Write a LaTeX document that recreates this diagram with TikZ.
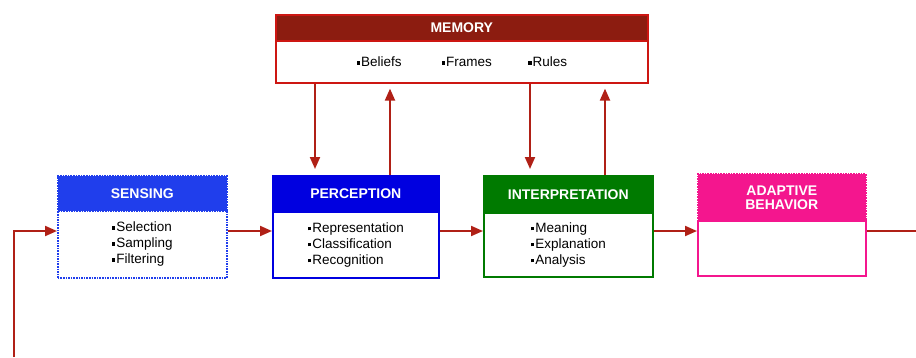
\documentclass[tikz,border=0pt]{standalone}
\usepackage{fontspec}
\setmainfont{Liberation Sans}
\usetikzlibrary{arrows.meta}

\definecolor{flowred}{RGB}{176,32,22}
\definecolor{memhead}{RGB}{140,28,16}
\definecolor{memline}{RGB}{205,22,18}
\definecolor{sensblue}{RGB}{32,62,236}
\definecolor{percblue}{RGB}{0,0,224}
\definecolor{interpgreen}{RGB}{0,122,0}
\definecolor{adapink}{RGB}{244,22,142}

\newcommand{\sqbul}{\rule[2pt]{3.6pt}{3.6pt}\hspace{1pt}}

\tikzset{
  hdr/.style={anchor=north west, inner sep=0pt, text=white, line width=1.6pt,
    font=\bfseries\fontsize{14}{16}\selectfont, align=center},
  bodybox/.style={anchor=north west, inner sep=0pt, fill=white, line width=1.6pt,
    font=\fontsize{13.5}{16}\selectfont, align=left},
  flow/.style={draw=flowred, line width=2pt, -{Triangle[length=12pt,width=10pt]}},
  plainflow/.style={draw=flowred, line width=2pt}
}

\begin{document}
\begin{tikzpicture}[x=1pt,y=-1pt]
\useasboundingbox (0,0) rectangle (916,357);

% memory
\node[hdr, fill=memhead, draw=memline, minimum width=372pt, minimum height=26pt]
  (memH) at (275,14) {MEMORY};
\node[bodybox, draw=memline, minimum width=372pt, minimum height=42pt]
  (memB) at (275,40) {\sqbul Beliefs\hspace{40pt}\sqbul Frames\hspace{36pt}\sqbul Rules};

% sensing
\node[hdr, fill=sensblue, draw=sensblue, densely dotted, minimum width=169pt, minimum height=35pt]
  (sensH) at (57,175) {SENSING};
\node[bodybox, draw=sensblue, densely dotted, minimum width=169pt, minimum height=67pt]
  (sensB) at (57,210) {\sqbul Selection\\\sqbul Sampling\\\sqbul Filtering};

% perception
\node[hdr, fill=percblue, draw=percblue, minimum width=166pt, minimum height=36pt]
  (percH) at (272,175) {PERCEPTION};
\node[bodybox, draw=percblue, minimum width=166pt, minimum height=66pt]
  (percB) at (272,211) {\sqbul Representation\\\sqbul Classification\\\sqbul Recognition};

% interpretation
\node[hdr, fill=interpgreen, draw=interpgreen, minimum width=169pt, minimum height=37pt]
  (intH) at (483,175) {INTERPRETATION};
\node[bodybox, draw=interpgreen, minimum width=169pt, minimum height=64pt]
  (intB) at (483,212) {\sqbul Meaning\\\sqbul Explanation\\\sqbul Analysis};

% adaptive behavior
\node[hdr, fill=adapink, draw=adapink, densely dotted, minimum width=168pt, minimum height=47pt]
  (adaH) at (697,173) {ADAPTIVE\\[-2pt]BEHAVIOR};
\node[bodybox, draw=adapink, minimum width=168pt, minimum height=55pt]
  (adaB) at (697,220) {};

% helper coordinates for connector positions
\coordinate (m1) at (315,0);
\coordinate (m2) at (390,0);
\coordinate (m3) at (530,0);
\coordinate (m4) at (605,0);
\coordinate (lvl) at (0,231);
\coordinate (start) at (14,357);
\coordinate (outend) at (916,231);

% main flow
\draw[flow] (start) |- (sensB.west |- lvl);
\draw[flow] (sensB.east |- lvl) -- (percB.west |- lvl);
\draw[flow] (percB.east |- lvl) -- (intB.west |- lvl);
\draw[flow] (intB.east |- lvl) -- (adaB.west |- lvl);
\draw[plainflow] (adaB.east |- lvl) -- (outend);

% memory exchange
\draw[flow, shorten >=6pt] (memB.south -| m1) -- (percH.north -| m1);
\draw[flow, shorten >=5pt] (percH.north -| m2) -- (memB.south -| m2);
\draw[flow, shorten >=6pt] (memB.south -| m3) -- (intH.north -| m3);
\draw[flow, shorten >=5pt] (intH.north -| m4) -- (memB.south -| m4);
\end{tikzpicture}
\end{document}
